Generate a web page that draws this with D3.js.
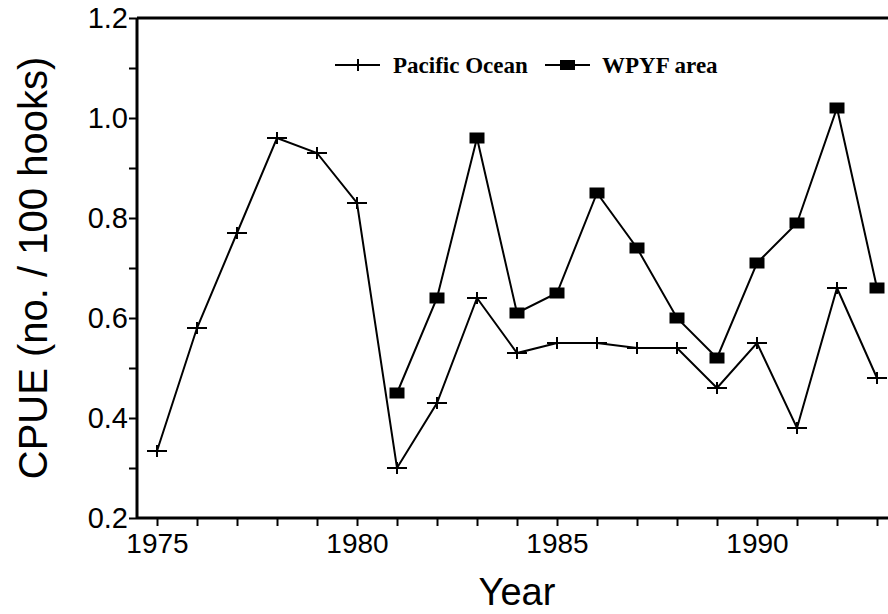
<!DOCTYPE html>
<html>
<head>
<meta charset="utf-8">
<script src="https://cdn.jsdelivr.net/npm/d3@7"></script>
<style>
  body { margin: 0; background: #fff; }
  svg { display: block; }
</style>
</head>
<body>
<div id="chart"></div>
<script>
// years on the x axis
var years = d3.range(1975, 1994);
// Pacific Ocean CPUE, 1975-1993
var pacific = [0.334, 0.58, 0.77, 0.96, 0.93, 0.83, 0.30, 0.43, 0.64, 0.53,
               0.55, 0.55, 0.54, 0.54, 0.46, 0.55, 0.38, 0.66, 0.48];
// WPYF area CPUE, 1981-1993
var wpyfYears = d3.range(1981, 1994);
var wpyf = [0.45, 0.64, 0.96, 0.61, 0.65, 0.85, 0.74, 0.60, 0.52, 0.71, 0.79, 1.02, 0.66];
var yTicks = [0.2, 0.3, 0.4, 0.5, 0.6, 0.7, 0.8, 0.9, 1.0, 1.1, 1.2];
var seriesNames = ["Pacific Ocean", "WPYF area"];

var width = 888, height = 614;

var svg = d3.select("#chart")
    .append("svg")
    .attr("width", width)
    .attr("height", height);

// scales
var x = d3.scaleLinear().domain([1974.5, 1993.5]).range([137, 897]);
var y = d3.scaleLinear().domain([0.2, 1.2]).range([518, 18]);

// y axis
var yaxis = svg.append("g")
    .attr("transform", "translate(" + x(1974.5) + ",0)")
    .call(d3.axisLeft(y)
        .tickValues(yTicks)
        .tickSize(8)
        .tickPadding(1)
        .tickFormat(function(d) {
            var k = Math.round(d * 10);
            return k % 2 === 0 ? d3.format(".1f")(d) : "";
        }));
yaxis.select(".domain").remove();
yaxis.selectAll("line").attr("stroke", "#000").attr("stroke-width", 2);
yaxis.selectAll("text")
    .attr("font-size", "29px")
    .attr("font-family", "Liberation Sans, Arial, sans-serif")
    .attr("fill", "#000");

// x axis
var xaxis = svg.append("g")
    .attr("transform", "translate(0," + y(0.2) + ")")
    .call(d3.axisBottom(x)
        .tickValues(years)
        .tickSize(8)
        .tickPadding(7)
        .tickFormat(function(d) { return d % 5 === 0 ? d : ""; }));
xaxis.select(".domain").remove();
xaxis.selectAll("line").attr("stroke", "#000").attr("stroke-width", 2);
xaxis.selectAll("text")
    .attr("font-size", "28px")
    .attr("font-family", "Liberation Sans, Arial, sans-serif")
    .attr("fill", "#000");

// frame: left, bottom, top
svg.append("line")
    .attr("x1", x(1974.5)).attr("x2", x(1974.5))
    .attr("y1", y(1.2)).attr("y2", y(0.2))
    .attr("stroke", "#000").attr("stroke-width", 3);
svg.append("line")
    .attr("x1", x(1974.5)).attr("x2", width)
    .attr("y1", y(0.2)).attr("y2", y(0.2))
    .attr("stroke", "#000").attr("stroke-width", 3);
svg.append("line")
    .attr("x1", x(1974.5)).attr("x2", width)
    .attr("y1", y(1.2)).attr("y2", y(1.2))
    .attr("stroke", "#000").attr("stroke-width", 3);

// axis titles
svg.append("text")
    .attr("transform", "translate(47," + (y(0.2) + y(1.2)) / 2 + ") rotate(-90)")
    .attr("text-anchor", "middle")
    .attr("font-size", "40px")
    .attr("font-family", "Liberation Sans, Arial, sans-serif")
    .text("CPUE (no. / 100 hooks)");

svg.append("text")
    .attr("x", 517)
    .attr("y", 605)
    .attr("text-anchor", "middle")
    .attr("font-size", "38px")
    .attr("font-family", "Liberation Sans, Arial, sans-serif")
    .text("Year");

// lines
var line = d3.line()
    .x(function(d) { return x(d.year); })
    .y(function(d) { return y(d.value); });

var pacData = years.map(function(yr, i) { return {year: yr, value: pacific[i]}; });
var wpData = wpyfYears.map(function(yr, i) { return {year: yr, value: wpyf[i]}; });

svg.append("path")
    .datum(pacData)
    .attr("d", line)
    .attr("fill", "none")
    .attr("stroke", "#000")
    .attr("stroke-width", 2);

svg.append("path")
    .datum(wpData)
    .attr("d", line)
    .attr("fill", "none")
    .attr("stroke", "#000")
    .attr("stroke-width", 2);

// plus markers
function plus(g, cx, cy) {
    g.append("line").attr("x1", cx - 10).attr("x2", cx + 10)
        .attr("y1", cy).attr("y2", cy)
        .attr("stroke", "#000").attr("stroke-width", 2);
    g.append("line").attr("x1", cx).attr("x2", cx)
        .attr("y1", cy - 6).attr("y2", cy + 6)
        .attr("stroke", "#000").attr("stroke-width", 2);
}
var plusG = svg.append("g");
pacData.forEach(function(d) { plus(plusG, x(d.year), y(d.value)); });

// square markers
svg.selectAll(".sq")
    .data(wpData)
    .enter()
    .append("rect")
    .attr("class", "sq")
    .attr("x", function(d) { return x(d.year) - 7.5; })
    .attr("y", function(d) { return y(d.value) - 5.5; })
    .attr("width", 15)
    .attr("height", 11)
    .attr("fill", "#000");

// legend
var legend = svg.append("g");
legend.append("line").attr("x1", 335).attr("x2", 380).attr("y1", 65).attr("y2", 65)
    .attr("stroke", "#000").attr("stroke-width", 2);
plus(legend, 358, 65);
legend.append("text")
    .attr("x", 393).attr("y", 73)
    .attr("font-size", "23px")
    .attr("font-weight", "bold")
    .attr("font-family", "Liberation Serif, Times New Roman, serif")
    .text(seriesNames[0]);
legend.append("line").attr("x1", 545).attr("x2", 590).attr("y1", 65).attr("y2", 65)
    .attr("stroke", "#000").attr("stroke-width", 2);
legend.append("rect").attr("x", 560).attr("y", 60).attr("width", 15).attr("height", 10)
    .attr("fill", "#000");
legend.append("text")
    .attr("x", 602).attr("y", 73)
    .attr("font-size", "23px")
    .attr("font-weight", "bold")
    .attr("font-family", "Liberation Serif, Times New Roman, serif")
    .text(seriesNames[1]);
</script>
</body>
</html>
